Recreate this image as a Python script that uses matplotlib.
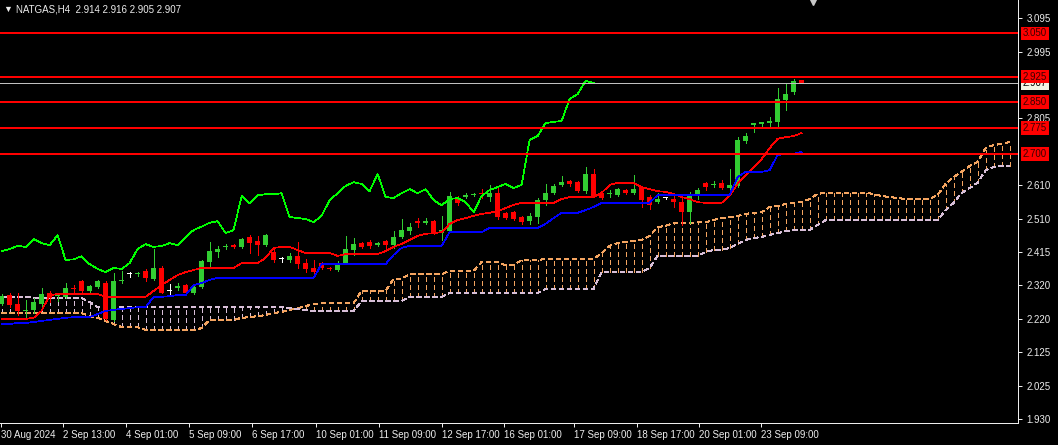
import numpy as np
import matplotlib.pyplot as plt
from matplotlib.transforms import blended_transform_factory

plt.rcParams['font.family'] = ['Liberation Sans', 'DejaVu Sans']
plt.rcParams['lines.scale_dashes'] = False
plt.rcParams['lines.antialiased'] = False

# NATGAS H4 candles, bar 0 = 30 Aug 2024
opens = [2.265, 2.290, 2.264, 2.244, 2.247, 2.264, 2.296, 2.286, 2.285, 2.311,
         2.331, 2.302, 2.313, 2.325, 2.218, 2.330, 2.351, 2.350, 2.360, 2.337,
         2.369, 2.302, 2.310, 2.319, 2.296, 2.313, 2.386, 2.415, 2.430, 2.436,
         2.430, 2.459, 2.447, 2.435, 2.415, 2.394, 2.392, 2.403, 2.383, 2.369,
         2.383, 2.369, 2.363, 2.383, 2.421, 2.441, 2.444, 2.435, 2.447, 2.435,
         2.459, 2.476, 2.505, 2.499, 2.505, 2.470, 2.476, 2.572, 2.575, 2.580,
         2.586, 2.575, 2.586, 2.528, 2.531, 2.517, 2.505, 2.517, 2.566, 2.586,
         2.610, 2.621, 2.618, 2.592, 2.642, 2.586, 2.583, 2.580, 2.595, 2.586,
         2.604, 2.575, 2.560, 2.572, 2.569, 2.560, 2.531, 2.578, 2.615, 2.610,
         2.615, 2.601, 2.607, 2.738, 2.784, 2.787, 2.790, 2.793, 2.857, 2.880,
         2.914]
highs = [2.292, 2.296, 2.296, 2.276, 2.282, 2.310, 2.302, 2.296, 2.325, 2.319,
         2.334, 2.318, 2.334, 2.331, 2.354, 2.360, 2.357, 2.357, 2.366, 2.424,
         2.375, 2.322, 2.325, 2.322, 2.319, 2.392, 2.444, 2.432, 2.438, 2.439,
         2.456, 2.465, 2.462, 2.467, 2.424, 2.401, 2.412, 2.444, 2.395, 2.392,
         2.386, 2.372, 2.389, 2.462, 2.456, 2.444, 2.450, 2.444, 2.450, 2.476,
         2.511, 2.499, 2.514, 2.514, 2.508, 2.519, 2.589, 2.578, 2.586, 2.586,
         2.598, 2.610, 2.601, 2.531, 2.534, 2.520, 2.528, 2.572, 2.613, 2.613,
         2.636, 2.624, 2.621, 2.662, 2.656, 2.592, 2.595, 2.601, 2.598, 2.639,
         2.607, 2.580, 2.586, 2.575, 2.580, 2.580, 2.589, 2.601, 2.618, 2.621,
         2.624, 2.656, 2.749, 2.761, 2.790, 2.793, 2.807, 2.892, 2.903, 2.918,
         2.916]
lows = [2.262, 2.255, 2.232, 2.221, 2.238, 2.255, 2.270, 2.273, 2.282, 2.296,
        2.299, 2.300, 2.310, 2.218, 2.215, 2.325, 2.343, 2.346, 2.331, 2.334,
        2.295, 2.293, 2.305, 2.293, 2.293, 2.310, 2.375, 2.401, 2.424, 2.427,
        2.428, 2.412, 2.406, 2.432, 2.386, 2.386, 2.386, 2.369, 2.357, 2.354,
        2.366, 2.363, 2.360, 2.380, 2.406, 2.427, 2.427, 2.432, 2.427, 2.427,
        2.456, 2.467, 2.488, 2.496, 2.467, 2.450, 2.473, 2.552, 2.572, 2.577,
        2.572, 2.563, 2.511, 2.511, 2.508, 2.496, 2.496, 2.499, 2.552, 2.583,
        2.607, 2.607, 2.589, 2.586, 2.575, 2.569, 2.575, 2.577, 2.583, 2.583,
        2.546, 2.540, 2.557, 2.569, 2.546, 2.493, 2.499, 2.569, 2.595, 2.604,
        2.598, 2.595, 2.604, 2.731, 2.764, 2.778, 2.775, 2.778, 2.828, 2.874,
        2.905]
closes = [2.288, 2.261, 2.244, 2.246, 2.270, 2.293, 2.282, 2.288, 2.311, 2.309,
          2.302, 2.316, 2.331, 2.221, 2.331, 2.333, 2.351, 2.353, 2.340, 2.368,
          2.297, 2.302, 2.316, 2.296, 2.313, 2.389, 2.418, 2.424, 2.433, 2.430,
          2.453, 2.441, 2.435, 2.464, 2.392, 2.394, 2.403, 2.380, 2.366, 2.357,
          2.369, 2.366, 2.383, 2.424, 2.438, 2.430, 2.433, 2.441, 2.435, 2.459,
          2.479, 2.489, 2.500, 2.505, 2.470, 2.479, 2.578, 2.557, 2.580, 2.583,
          2.583, 2.586, 2.517, 2.514, 2.511, 2.502, 2.520, 2.566, 2.586, 2.607,
          2.618, 2.613, 2.592, 2.642, 2.575, 2.572, 2.586, 2.598, 2.586, 2.598,
          2.566, 2.551, 2.569, 2.572, 2.560, 2.531, 2.578, 2.595, 2.604, 2.613,
          2.601, 2.610, 2.741, 2.752, 2.790, 2.793, 2.796, 2.860, 2.874, 2.912,
          2.907]

# Ichimoku (9, 26, 52)
tenkan = [2.221, 2.221, 2.221, 2.221, 2.224, 2.244, 2.290, 2.293, 2.293, 2.293,
          2.293, 2.293, 2.293, 2.285, 2.285, 2.285, 2.285, 2.285, 2.285, 2.302,
          2.319, 2.334, 2.348, 2.357, 2.363, 2.369, 2.369, 2.369, 2.369, 2.369,
          2.383, 2.383, 2.383, 2.398, 2.427, 2.430, 2.430, 2.421, 2.412, 2.412,
          2.412, 2.412, 2.404, 2.409, 2.409, 2.409, 2.409, 2.409, 2.418, 2.430,
          2.439, 2.450, 2.462, 2.468, 2.470, 2.473, 2.497, 2.508, 2.514, 2.520,
          2.526, 2.529, 2.534, 2.543, 2.552, 2.558, 2.558, 2.558, 2.558, 2.558,
          2.569, 2.575, 2.575, 2.575, 2.575, 2.587, 2.610, 2.616, 2.616, 2.616,
          2.604, 2.598, 2.592, 2.590, 2.584, 2.575, 2.569, 2.560, 2.558, 2.558,
          2.558, 2.578, 2.613, 2.639, 2.662, 2.685, 2.717, 2.744, 2.749, 2.752,
          2.761]
kijun = [2.206, 2.206, 2.209, 2.209, 2.212, 2.215, 2.218, 2.221, 2.224, 2.226,
         2.226, 2.226, 2.235, 2.244, 2.247, 2.250, 2.252, 2.255, 2.255, 2.285,
         2.285, 2.287, 2.290, 2.290, 2.319, 2.325, 2.334, 2.340, 2.340, 2.340,
         2.340, 2.340, 2.340, 2.340, 2.340, 2.340, 2.340, 2.340, 2.340, 2.340,
         2.380, 2.380, 2.380, 2.380, 2.380, 2.380, 2.380, 2.380, 2.380, 2.407,
         2.427, 2.433, 2.433, 2.433, 2.433, 2.433, 2.473, 2.473, 2.473, 2.473,
         2.473, 2.485, 2.485, 2.485, 2.485, 2.485, 2.485, 2.485, 2.497, 2.514,
         2.529, 2.529, 2.529, 2.537, 2.546, 2.558, 2.558, 2.558, 2.558, 2.558,
         2.558, 2.558, 2.581, 2.581, 2.581, 2.581, 2.581, 2.581, 2.581, 2.581,
         2.581, 2.581, 2.633, 2.648, 2.648, 2.648, 2.653, 2.697, 2.700, 2.700,
         2.706]
span_a = [2.238, 2.238, 2.238, 2.238, 2.238, 2.238, 2.238, 2.238, 2.238, 2.238,
          2.238, 2.229, 2.224, 2.215, 2.206, 2.197, 2.197, 2.197, 2.189, 2.189,
          2.189, 2.189, 2.189, 2.189, 2.189, 2.194, 2.218, 2.218, 2.218, 2.218,
          2.224, 2.226, 2.229, 2.232, 2.238, 2.241, 2.247, 2.252, 2.258, 2.264,
          2.267, 2.267, 2.267, 2.267, 2.267, 2.302, 2.302, 2.302, 2.302, 2.337,
          2.337, 2.351, 2.351, 2.351, 2.351, 2.351, 2.360, 2.360, 2.360, 2.360,
          2.386, 2.386, 2.386, 2.377, 2.377, 2.392, 2.392, 2.392, 2.395, 2.395,
          2.395, 2.395, 2.395, 2.395, 2.395, 2.412, 2.433, 2.441, 2.444, 2.447,
          2.450, 2.462, 2.488, 2.491, 2.499, 2.499, 2.499, 2.502, 2.502, 2.508,
          2.514, 2.517, 2.520, 2.526, 2.529, 2.531, 2.546, 2.549, 2.555, 2.558,
          2.560, 2.569, 2.584, 2.587, 2.587, 2.587, 2.587, 2.587, 2.587, 2.584,
          2.578, 2.575, 2.572, 2.569, 2.569, 2.569, 2.569, 2.581, 2.613, 2.633,
          2.648, 2.665, 2.677, 2.717, 2.726, 2.729, 2.735]
span_b = [2.285, 2.285, 2.285, 2.285, 2.282, 2.282, 2.282, 2.282, 2.282, 2.282,
          2.282, 2.270, 2.255, 2.255, 2.255, 2.255, 2.255, 2.255, 2.255, 2.255,
          2.255, 2.255, 2.255, 2.255, 2.255, 2.255, 2.255, 2.255, 2.255, 2.255,
          2.255, 2.255, 2.255, 2.255, 2.255, 2.255, 2.252, 2.250, 2.247, 2.244,
          2.244, 2.244, 2.244, 2.244, 2.244, 2.273, 2.273, 2.273, 2.273, 2.273,
          2.273, 2.285, 2.285, 2.285, 2.285, 2.285, 2.296, 2.296, 2.296, 2.296,
          2.296, 2.296, 2.296, 2.296, 2.296, 2.296, 2.296, 2.296, 2.308, 2.308,
          2.308, 2.308, 2.308, 2.308, 2.308, 2.357, 2.357, 2.357, 2.357, 2.357,
          2.357, 2.369, 2.404, 2.404, 2.404, 2.404, 2.404, 2.404, 2.415, 2.421,
          2.421, 2.427, 2.439, 2.450, 2.456, 2.459, 2.465, 2.470, 2.476, 2.479,
          2.479, 2.479, 2.494, 2.508, 2.508, 2.508, 2.508, 2.508, 2.508, 2.508,
          2.508, 2.508, 2.508, 2.508, 2.508, 2.508, 2.508, 2.508, 2.537, 2.558,
          2.587, 2.601, 2.616, 2.653, 2.662, 2.665, 2.665]
chikou_shift = 26

# horizontal levels drawn on the chart
levels = [3.050, 2.925, 2.850, 2.775, 2.700]
last_price = 2.907

# axes labels
price_ticks = [3.095, 2.995, 2.805, 2.610, 2.510, 2.415, 2.320, 2.220, 2.125, 2.025, 1.930]
time_labels = ['30 Aug 2024', '2 Sep 13:00', '4 Sep 01:00', '5 Sep 09:00', '6 Sep 17:00',
               '10 Sep 01:00', '11 Sep 09:00', '12 Sep 17:00', '16 Sep 01:00',
               '17 Sep 09:00', '18 Sep 17:00', '20 Sep 01:00', '23 Sep 09:00']
title = 'NATGAS,H4  2.914 2.916 2.905 2.907'

# layout: pixel positions of the time-scale ticks (MT4 places them by pixel)
tick_px = [1, 63, 126, 189, 252, 316, 379, 442, 504, 574, 637, 699, 761]

# colours / sizes
LW = 0.5                   # renders as a 1 px aliased line at dpi 100
BULL, BEAR, DOJI = '#32cd32', '#ff0000', '#ffffff'
SANDY, THISTLE = '#f4a460', '#d8bfd8'
FG = '#ececec'
FS = 7
DOT = (0, (2.9, 2.2))
PITCH = 8                  # pixels per bar
X0 = -0.2                  # bar index at the left edge

W, H = 1058, 445
fig = plt.figure(figsize=(W / 100, H / 100), dpi=100, facecolor='black')
ax = fig.add_axes([0, 22 / H, 1018 / W, 423 / H], facecolor='black')
ax.set_xlim(X0, X0 + 1018 / PITCH)
ax.set_ylim(1.9185, 3.1473)

o, h, l, c = (np.array(v) for v in (opens, highs, lows, closes))
idx = np.arange(len(c))

# cloud (MT4 style vertical dotted histogram)
a, b = np.array(span_a), np.array(span_b)
cidx = np.arange(len(a))
up = a >= b
ax.vlines(cidx[up], b[up], a[up], colors=SANDY, lw=LW, linestyles=[DOT],
          antialiased=False, zorder=1)
ax.vlines(cidx[~up], a[~up], b[~up], colors=THISTLE, lw=LW, linestyles=[DOT],
          antialiased=False, zorder=1)
ax.plot(cidx, a, color=SANDY, lw=LW, ls=DOT, zorder=1)
ax.plot(cidx, b, color=THISTLE, lw=LW, ls=DOT, zorder=1)

# candles
cols = np.where(c > o, BULL, np.where(c < o, BEAR, DOJI))
ax.vlines(idx, l, h, colors=cols, lw=LW, antialiased=False, zorder=3)
body = np.maximum(np.abs(c - o), 0.0029)
ax.bar(idx, body, bottom=np.minimum(o, c), width=0.625, color=cols, lw=0,
       antialiased=False, zorder=4)

# ichimoku lines
ax.plot(idx, tenkan, color='#ff0000', lw=LW, zorder=5)
ax.plot(idx, kijun, color='#0000ff', lw=LW, zorder=5)
ax.plot(idx[:-chikou_shift], c[chikou_shift:], color='#00ff00', lw=LW, zorder=5)

# levels and last price
ax.axhline(last_price, color='#c0c0c0', lw=LW, zorder=5)
for lv in levels:
    ax.axhline(lv, color='#ff0000', lw=1.3, zorder=6)

trans = blended_transform_factory(ax.transAxes, ax.transData)
x_lab = 1 + 5 / 1018
ax.text(x_lab, last_price, f'{last_price:.3f}', transform=trans, ha='left', va='center',
        fontsize=FS, color='black', clip_on=False, zorder=9,
        bbox=dict(boxstyle='square,pad=0.2', fc='#f4f4e4', ec='none'))
for lv in levels:
    ax.text(x_lab, lv, f'{lv:.3f}', transform=trans, ha='left', va='center',
            fontsize=FS, color='#3a0000', clip_on=False, zorder=10,
            bbox=dict(boxstyle='square,pad=0.2', fc='#ff0000', ec='none'))

# axes styling
for s in ['left', 'top']:
    ax.spines[s].set_visible(False)
for s in ['right', 'bottom']:
    ax.spines[s].set_color(FG)
    ax.spines[s].set_linewidth(0.72)
ax.yaxis.tick_right()
ax.set_yticks(price_ticks)
ax.set_yticklabels([f'{v:.3f}' for v in price_ticks])
ax.set_xticks(X0 + np.array(tick_px) / PITCH)
ax.set_xticklabels(time_labels)
for lbl in ax.get_xticklabels():
    lbl.set_ha('left')
ax.tick_params(axis='y', colors=FG, length=3, width=0.72, pad=3, labelsize=FS)
ax.tick_params(axis='x', colors=FG, length=3, width=0.72, pad=2, labelsize=FS)

# header
fig.text(3 / W, 1 - 9 / H, '\u25bc', fontsize=6.5, color=FG, va='center', ha='left')
fig.text(16 / W, 1 - 9 / H, title, fontsize=FS, color=FG, va='center', ha='left')
ax.plot([813 / 1018], [0.995], marker='v', ms=5, color='#c8c8c8', transform=ax.transAxes,
        clip_on=False, zorder=10)

fig.savefig('out.png', dpi=100, facecolor='black')
